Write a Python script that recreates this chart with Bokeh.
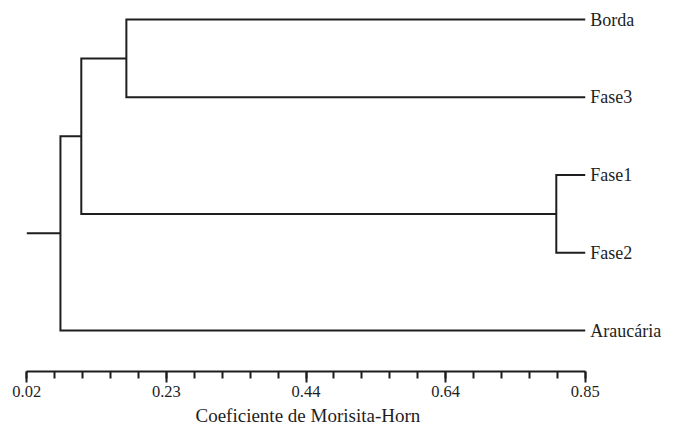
import numpy as np
from bokeh.plotting import figure
from bokeh.models import Range1d, FixedTicker, LinearAxis, Title
from bokeh.core.properties import value
from bokeh.embed import file_html
from bokeh.resources import INLINE

# ---- data ----
leaf_labels = ["Borda", "Fase3", "Fase1", "Fase2", "Araucária"]
merge_left = [0, 2, 5, 7]          # node ids (0-4 leaves, 5+ clusters in order)
merge_right = [1, 3, 6, 4]
merge_height = [0.168, 0.807, 0.101, 0.070]
leaf_value = 0.85
root_value = 0.02
axis_min = 0.02
axis_max = 0.85
tick_labels = ["0.02", "0.23", "0.44", "0.64", "0.85"]
axis_title = "Coeficiente de Morisita-Horn"

# ---- build dendrogram paths ----
n = len(leaf_labels)
node_y = [float(n - 1 - i) for i in range(n)]
node_x = [leaf_value] * n
xs, ys = [], []
for l, r, h in zip(merge_left, merge_right, merge_height):
    xs.append([node_x[l], h, h, node_x[r]])
    ys.append([node_y[l], node_y[l], node_y[r], node_y[r]])
    node_x.append(h)
    node_y.append((node_y[l] + node_y[r]) / 2)
# root stub
xs.append([root_value, node_x[-1]])
ys.append([node_y[-1], node_y[-1]])

FONT = "Liberation Serif"
INK = "#1e1e1e"

W, H = 673, 432
y_top, y_bot = 4.2444, -0.5273
p = figure(width=W, height=H, output_backend="svg", toolbar_location=None,
           x_range=Range1d(-0.01909, -0.01909 + W / 672.8),
           y_range=Range1d(y_bot, y_top),
           min_border_left=0, min_border_right=0, min_border_top=0, min_border_bottom=61,
           x_axis_location=None, y_axis_location=None)
p.outline_line_color = None
p.xgrid.visible = False
p.ygrid.visible = False
p.background_fill_color = "white"
p.border_fill_color = "white"

p.multi_line(xs=xs, ys=ys, line_color=INK, line_width=2, line_join="miter")

p.text(x=[leaf_value] * n, y=node_y[:n], text=leaf_labels, x_offset=5,
       text_baseline="middle", text_align="left", text_font=value(FONT),
       text_font_size="18px", text_color=INK)

major = list(np.linspace(axis_min, axis_max, len(tick_labels)))
minor = list(np.linspace(axis_min, axis_max, 4 * 5 + 1))
ax = LinearAxis(ticker=FixedTicker(ticks=major, minor_ticks=minor))
ax.bounds = (axis_min, axis_max)
ax.major_label_overrides = {t: s for t, s in zip(major, tick_labels)}
ax.major_label_text_font = FONT
ax.major_label_text_font_size = "16.5px"
ax.major_label_text_color = INK
ax.major_label_standoff = 3
ax.axis_line_color = INK
ax.axis_line_width = 2
ax.major_tick_line_color = INK
ax.major_tick_line_width = 2
ax.major_tick_out = 11
ax.major_tick_in = 0
ax.minor_tick_line_color = INK
ax.minor_tick_line_width = 2
ax.minor_tick_out = 7
ax.minor_tick_in = 0
p.add_layout(ax, "below")

# axis title, left-aligned with an offset so that it sits centred under the axis
t = Title(text=axis_title, align="left", offset=195, standoff=6,
          text_font=FONT, text_font_style="normal", text_font_size="19px",
          text_color=INK)
p.add_layout(t, "below")

open("out.html", "w").write(file_html(p, INLINE))
